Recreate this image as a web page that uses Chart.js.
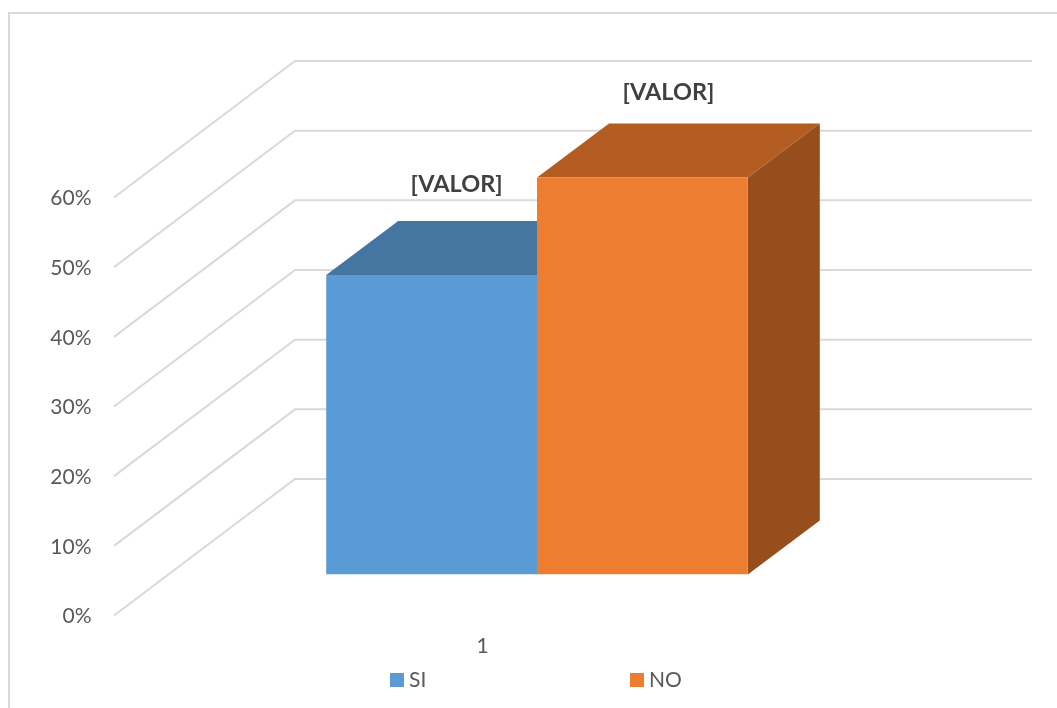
<!DOCTYPE html>
<html>
<head>
<meta charset="utf-8">
<style>
  html, body { margin: 0; background: #fff; }
  #frame { position: absolute; left: 8px; top: 12px; right: 0; bottom: 0; border-left: 2px solid #d9d9d9; border-top: 2px solid #d9d9d9; }
  #myChart { position: absolute; left: 0; top: 0; }
</style>
</head>
<body>
<div id="frame"></div>
<canvas id="myChart" width="1057" height="708"></canvas>
<script src="https://cdn.jsdelivr.net/npm/chart.js@4"></script>
<script>
const categories = ["1"];
const seriesNames = ["SI", "NO"];
const seriesValues = [43, 57];
const valueLabels = ["[VALOR]", "[VALOR]"];

const frontColors = ["#5b9bd5", "#ed7d31"];
const topColors = ["#4575a1", "#b35d22"];
const sideColors = ["#3e6990", "#964f1c"];

const fontName = "Lato, 'Open Sans', sans-serif";

// the bars stand inside the box: walls are offset from the bar plane
const wallFront = { x: -54.5, y: 41 };
const wallBack = { x: 126.5, y: -95.5 };
const barDepth = { x: 72, y: -54 };
const labelShift = [{ x: 25, y: -91 }, { x: 26, y: -85 }];

function polygon(ctx, pts, color) {
  ctx.fillStyle = color;
  ctx.beginPath();
  pts.forEach((p, i) => (i ? ctx.lineTo(p[0], p[1]) : ctx.moveTo(p[0], p[1])));
  ctx.closePath();
  ctx.fill();
}

const box3d = {
  id: "box3d",
  beforeDatasetsDraw(chart) {
    const { ctx, chartArea, scales } = chart;
    ctx.save();
    // grid: diagonal on the side wall, then horizontal on the back wall
    ctx.strokeStyle = "#d9d9d9";
    ctx.lineWidth = 2;
    scales.y.ticks.forEach((t) => {
      const py = scales.y.getPixelForValue(t.value);
      ctx.beginPath();
      ctx.moveTo(chartArea.left + wallFront.x, py + wallFront.y);
      ctx.lineTo(chartArea.left + wallBack.x, py + wallBack.y);
      ctx.lineTo(chartArea.right + wallBack.x, py + wallBack.y);
      ctx.stroke();
    });
    // top and side faces go under the front faces
    chart.data.datasets.forEach((ds, i) => {
      const bar = chart.getDatasetMeta(i).data[0];
      const left = bar.x - bar.width / 2;
      const right = bar.x + bar.width / 2;
      const dx = barDepth.x;
      const dy = barDepth.y;
      polygon(ctx, [[left, bar.y], [left + dx, bar.y + dy], [right + dx, bar.y + dy], [right, bar.y]], topColors[i]);
      polygon(ctx, [[right, bar.y], [right + dx, bar.y + dy], [right + dx, bar.base + dy], [right, bar.base]], sideColors[i]);
    });
    ctx.restore();
  },
  afterDatasetsDraw(chart) {
    const { ctx } = chart;
    ctx.save();
    ctx.textAlign = "center";
    ctx.textBaseline = "middle";
    ctx.fillStyle = "#404040";
    ctx.font = "bold 23.5px " + fontName;
    chart.data.datasets.forEach((ds, i) => {
      const bar = chart.getDatasetMeta(i).data[0];
      ctx.fillText(valueLabels[i], bar.x + labelShift[i].x, bar.y + labelShift[i].y);
    });
    // legend, the items are too far apart for the built-in one
    ctx.textAlign = "left";
    ctx.font = "21px " + fontName;
    const legendX = [390, 630];
    chart.data.datasets.forEach((ds, i) => {
      ctx.fillStyle = ds.backgroundColor;
      ctx.fillRect(legendX[i], 673, 14, 14);
      ctx.fillStyle = "#595959";
      ctx.fillText(ds.label, legendX[i] + 19, 680);
    });
    ctx.restore();
  },
};

const config = {
  type: "bar",
  data: {
    labels: categories,
    datasets: seriesNames.map((name, i) => ({
      label: name,
      data: [seriesValues[i]],
      backgroundColor: frontColors[i],
      categoryPercentage: 0.572,
      barPercentage: 1,
    })),
  },
  options: {
    responsive: false,
    animation: false,
    layout: { padding: { left: 0, top: 156.5, right: 151.5, bottom: 0 } },
    plugins: { legend: { display: false }, tooltip: { enabled: false } },
    scales: {
      x: {
        grid: { display: false, drawTicks: false },
        border: { display: false },
        afterFit: (s) => { s.height = 133.5; },
        ticks: { color: "#595959", font: { family: fontName, size: 21 }, padding: 59, labelOffset: wallFront.x },
      },
      y: {
        min: 0,
        max: 60,
        grid: { display: false, drawTicks: false },
        border: { display: false },
        afterFit: (s) => { s.width = 168.5; },
        ticks: {
          stepSize: 10,
          color: "#595959",
          font: { family: fontName, size: 21 },
          padding: 77,
          labelOffset: wallFront.y + 1,
          callback: (v) => v + "%",
        },
      },
    },
  },
  plugins: [box3d],
};

let chart = new Chart(document.getElementById("myChart").getContext("2d"), config);
</script>
</body>
</html>
